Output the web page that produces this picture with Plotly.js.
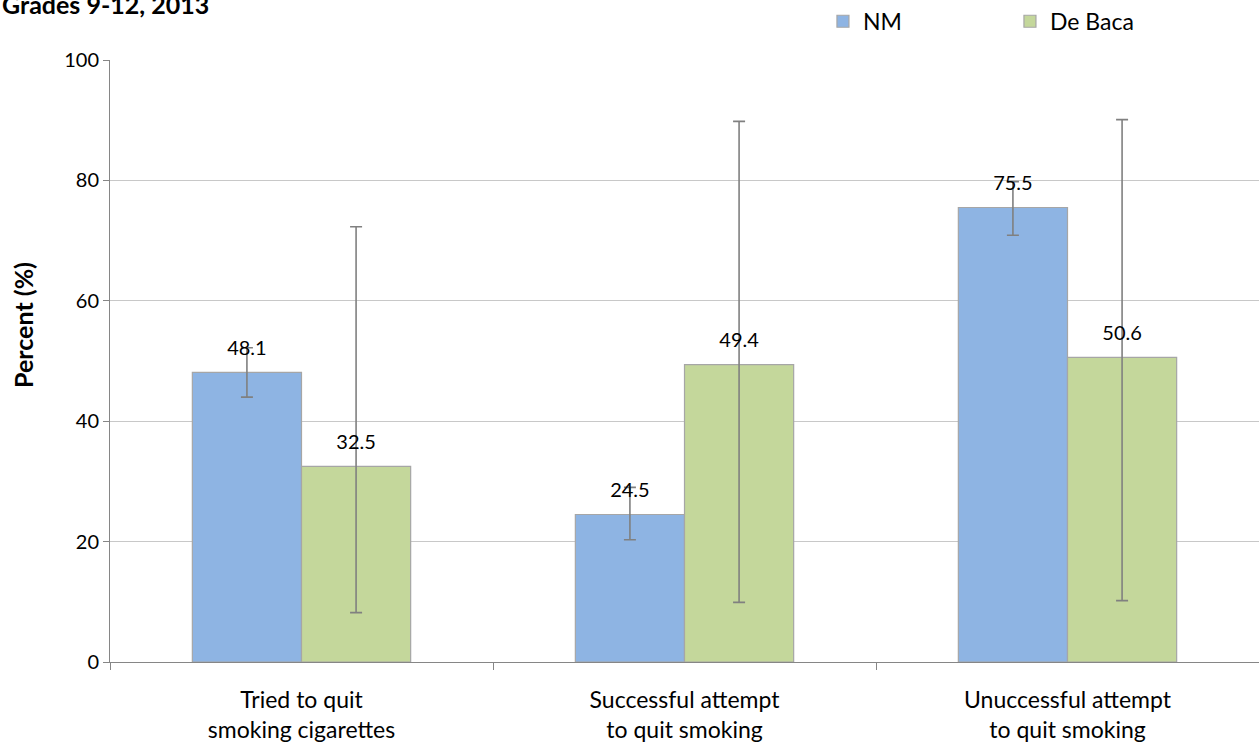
<!DOCTYPE html>
<html>
<head>
<meta charset="utf-8">
<script src="https://cdn.plot.ly/plotly-3.0.1.min.js"></script>
<style>html,body{margin:0;padding:0;background:#fff;}#chart{width:1259px;height:752px;}</style>
</head>
<body>
<div id="chart"></div>
<script>
const categories = ["Tried to quit<br>smoking cigarettes", "Successful attempt<br>to quit smoking", "Unuccessful attempt<br>to quit smoking"];
const seriesNames = ["NM", "De Baca"];
const nmValues = [48.1, 24.5, 75.5];
const nmErrPlus = [4.1, 4.5, 4.3];
const nmErrMinus = [4.1, 4.2, 4.6];
const dbValues = [32.5, 49.4, 50.6];
const dbErrPlus = [39.8, 40.4, 39.5];
const dbErrMinus = [24.3, 39.5, 40.4];
const yTicks = [0, 20, 40, 60, 80, 100];

const font = "Lato, 'Open Sans', sans-serif";

function barTrace(name, vals, plus, minus, color, grp) {
  return {
    type: 'bar', name: name, x: categories, y: vals, offsetgroup: grp,
    marker: {color: color, line: {color: '#a6a6a6', width: 1.2}},
    error_y: {type: 'data', symmetric: false, array: plus, arrayminus: minus,
              color: '#808080', thickness: 1.6, width: 6},
    hoverinfo: 'none'
  };
}
function labelTrace(vals, grp) {
  return {
    type: 'scatter', mode: 'markers+text', x: categories, y: vals, offsetgroup: grp,
    text: vals.map(v => v.toFixed(1)), textposition: 'top center', cliponaxis: false,
    textfont: {family: font, size: 20, color: '#000'},
    marker: {size: 18, opacity: 0}, showlegend: false, hoverinfo: 'none'
  };
}

const data = [
  barTrace(seriesNames[0], nmValues, nmErrPlus, nmErrMinus, '#8eb4e3', 'a'),
  barTrace(seriesNames[1], dbValues, dbErrPlus, dbErrMinus, '#c4d79b', 'b'),
  labelTrace(nmValues, 'a'),
  labelTrace(dbValues, 'b')
];

const layout = {
  width: 1259, height: 752,
  margin: {l: 110, r: 0, t: 60, b: 90, autoexpand: false},
  paper_bgcolor: '#fff', plot_bgcolor: '#fff',
  barmode: 'group', bargap: 0.43, bargroupgap: 0, scattermode: 'group',
  font: {family: font, size: 19, color: '#000'},
  showlegend: true,
  legend: {orientation: 'h', x: 0.6205, xanchor: 'left', y: 1.1, yanchor: 'top',
           font: {family: font, size: 23, color: '#000'}, entrywidth: 142, entrywidthmode: 'pixels',
           itemwidth: 30, traceorder: 'normal'},
  xaxis: {type: 'category', tickson: 'boundaries', ticks: 'outside', ticklen: 7, tickcolor: '#868686',
          showline: true, linecolor: '#868686', linewidth: 1, showgrid: false, ticklabelstandoff: 17,
          tickfont: {family: font, size: 23, color: '#000'}},
  yaxis: {range: [0, 100], tickvals: yTicks, ticks: 'outside', ticklen: 6, tickcolor: '#868686',
          showline: true, linecolor: '#868686', linewidth: 1,
          showgrid: true, gridcolor: '#c8c8c8', gridwidth: 1, zeroline: false,
          tickfont: {family: font, size: 20, color: '#000'}},
  annotations: [
    {text: '<b>Grades 9-12, 2013</b>', xref: 'paper', yref: 'paper', x: -0.0957, xanchor: 'left',
     y: 1.064, yanchor: 'bottom', showarrow: false, font: {family: font, size: 25, color: '#000'}},
    {text: '<b>Percent (%)</b>', textangle: -90, xref: 'paper', yref: 'paper', x: -0.0757, xanchor: 'center',
     y: 0.56, yanchor: 'middle', showarrow: false, font: {family: font, size: 25, color: '#000'}}
  ]
};

Plotly.newPlot('chart', data, layout, {displayModeBar: false, staticPlot: true});
</script>
</body>
</html>
